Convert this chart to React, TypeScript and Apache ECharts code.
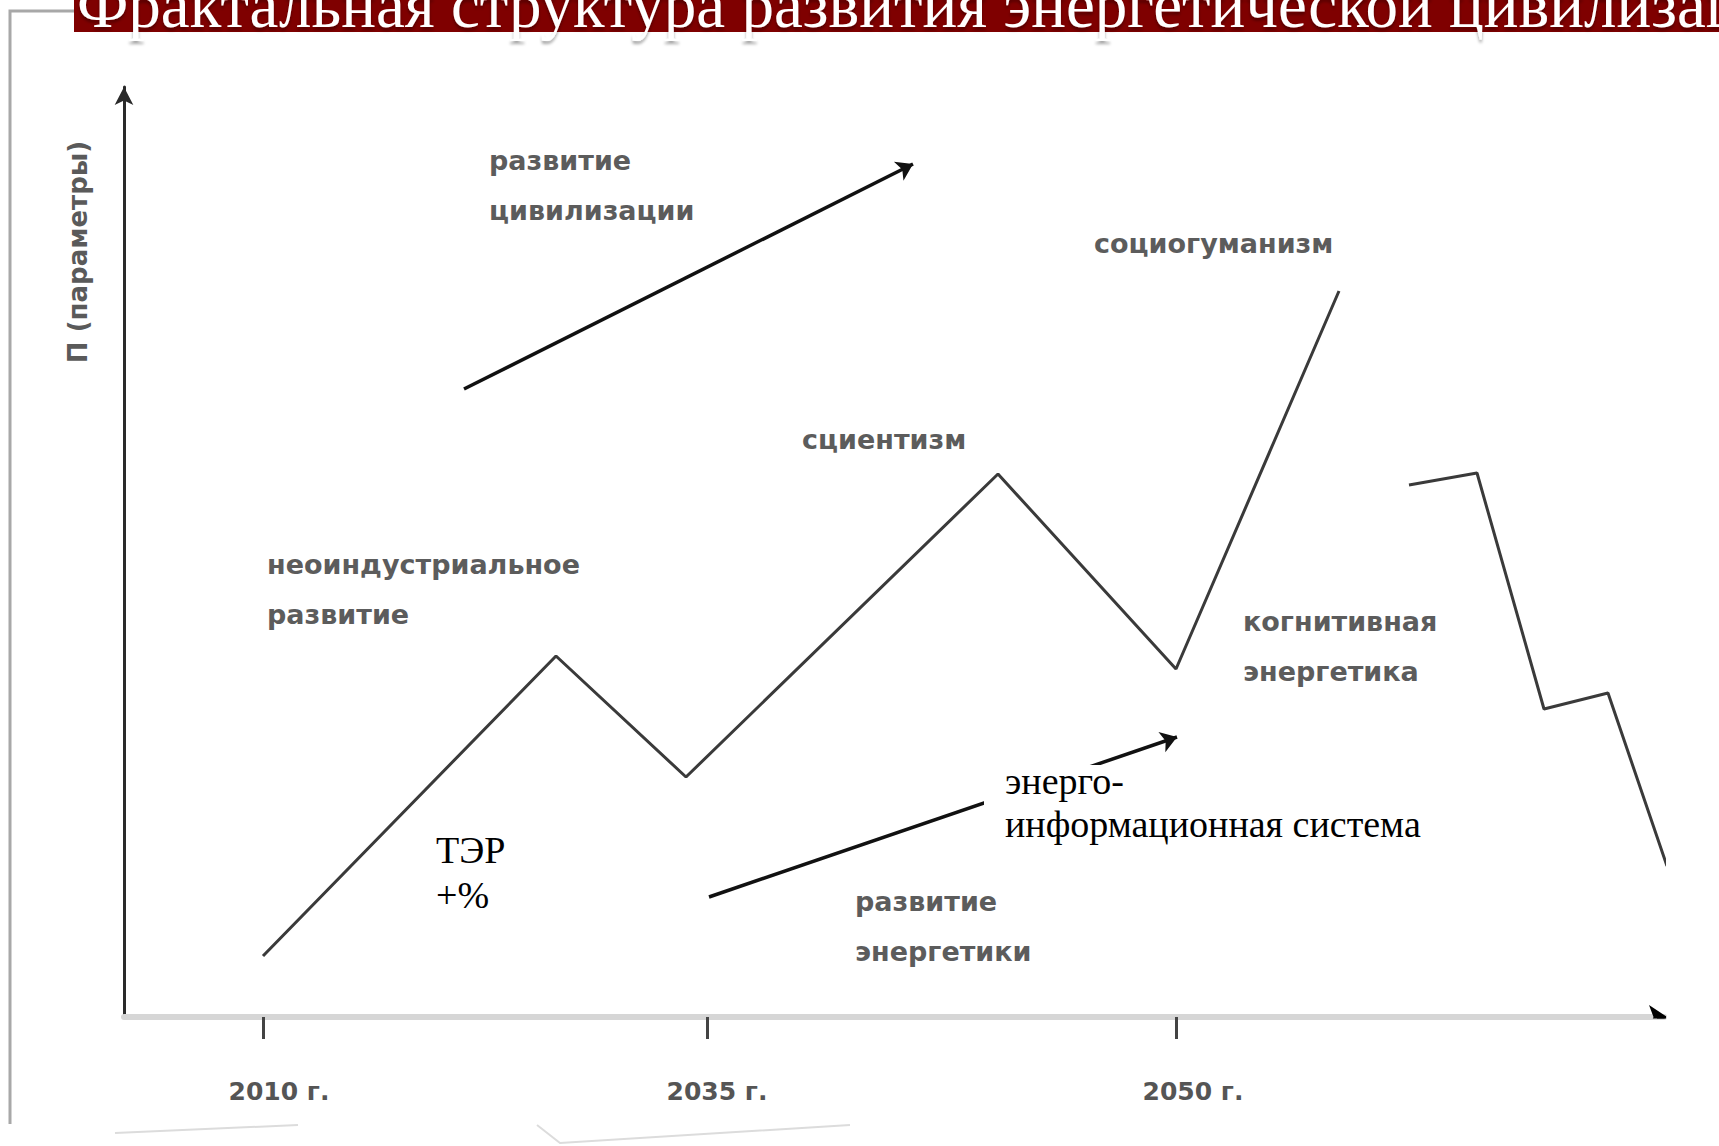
import React, { useEffect, useRef } from "react";
import * as echarts from "echarts";

// ---- data (abstract units: 1 unit ≈ time/parameter step) ----
const titleText = "Фрактальная структура развития энергетической цивилизации";
const yAxisName = "П (параметры)";
const xTickValues = [13.9, 58.3, 105.2];
const xLabelValues = [15.5, 59.3, 106.9];
const xTickLabels = ["2010 г.", "2035 г.", "2050 г."];

const mainPath = [
  [13.9, 6.1],
  [43.2, 36.1],
  [56.2, 24.0],
  [87.4, 54.3],
  [105.2, 34.8],
  [121.5, 72.6],
];
const rightPath = [
  [128.5, 53.2],
  [135.3, 54.4],
  [142.0, 30.8],
  [148.4, 32.4],
  [154.3, 15.1],
];
const civArrow = [
  [34.0, 62.8],
  [78.9, 85.3],
];
const energyArrow = [
  [58.5, 12.0],
  [105.3, 28.0],
];
const xArrow = [
  [153.3, 0],
  [154.3, 0],
];

const grayLabels = [
  "развитие\nцивилизации",
  "социогуманизм",
  "сциентизм",
  "неоиндустриальное\nразвитие",
  "когнитивная\nэнергетика",
  "развитие\nэнергетики",
];
const serifLabels = ["ТЭР\n+%", "энерго-\nинформационная система"];

export default function App() {
  const ref = useRef<HTMLDivElement>(null);

  useEffect(() => {
    document.body.style.margin = "0";
    const chart = echarts.init(ref.current!, null, { renderer: "svg" });
    const grayFont = {
      fontFamily: "'DejaVu Sans', sans-serif",
      fontWeight: "bold" as const,
      fontSize: 27,
      fill: "#5c5c5c",
      lineHeight: 50,
      verticalAlign: "middle" as const,
      align: "left" as const,
    };
    const serifFont = {
      fontFamily: "'Liberation Serif', serif",
      fontSize: 38,
      fill: "#000",
      align: "left" as const,
      verticalAlign: "middle" as const,
    };
    const grayPos = [
      [489, 185],
      [1094, 243],
      [802, 439],
      [267, 589],
      [1243, 646],
      [855, 926],
    ];

    const option: any = {
      animation: false,
      backgroundColor: "#ffffff",
      grid: { left: 124, right: 55, top: 87, bottom: 129 },
      xAxis: {
        type: "value",
        min: 0,
        max: 154,
        axisLine: {
          show: true,
          lineStyle: { color: "#d6d6d6", width: 6 },
        },
        axisTick: {
          show: true,
          customValues: xTickValues,
          length: 22,
          lineStyle: { color: "#444", width: 3 },
        },
        axisLabel: {
          show: true,
          customValues: xLabelValues,
          margin: 62,
          fontFamily: "'DejaVu Sans', sans-serif",
          fontWeight: "bold",
          fontSize: 25,
          color: "#555",
          formatter: (v: number) => {
            const i = xLabelValues.findIndex((u) => Math.abs(u - v) < 0.05);
            return i >= 0 ? xTickLabels[i] : "";
          },
        },
        splitLine: { show: false },
      },
      yAxis: {
        type: "value",
        min: 0,
        max: 93,
        axisLine: {
          show: true,
          lineStyle: { color: "#2a2a2a", width: 3 },
          symbol: ["none", "arrow"],
          symbolSize: [14, 18],
        },
        axisTick: { show: false },
        axisLabel: { show: false },
        splitLine: { show: false },
      },
      series: [
        {
          type: "line",
          data: mainPath,
          showSymbol: false,
          clip: false,
          lineStyle: { color: "#3a3a3a", width: 3 },
        },
        {
          type: "line",
          data: rightPath,
          showSymbol: false,
          clip: false,
          lineStyle: { color: "#3a3a3a", width: 3 },
        },
        {
          type: "lines",
          coordinateSystem: "cartesian2d",
          symbol: ["none", "arrow"],
          symbolSize: 16,
          lineStyle: { color: "#111", width: 3.5, opacity: 1 },
          data: [{ coords: civArrow }, { coords: energyArrow }],
        },
        {
          type: "lines",
          coordinateSystem: "cartesian2d",
          symbol: ["none", "arrow"],
          symbolSize: 18,
          lineStyle: { color: "#000", width: 3, opacity: 1 },
          data: [{ coords: xArrow }],
        },
      ],
      graphic: [
        {
          type: "polyline",
          z: 100,
          shape: { points: [[10, 1124], [10, 11], [74, 11]] },
          style: { stroke: "#a8a8a8", lineWidth: 3, fill: null },
        },
        {
          type: "polyline",
          z: 100,
          shape: { points: [[115, 1133], [298, 1125]] },
          style: { stroke: "#dcdcdc", lineWidth: 2, fill: null },
        },
        {
          type: "polyline",
          z: 100,
          shape: { points: [[537, 1125], [560, 1143], [850, 1125]] },
          style: { stroke: "#dcdcdc", lineWidth: 2, fill: null },
        },
        {
          type: "rect",
          z: 100,
          shape: { x: 74, y: 0, width: 1645, height: 32 },
          style: { fill: "#7f0000" },
        },
        {
          type: "text",
          z: 101,
          x: 77,
          y: 5,
          style: {
            text: titleText,
            fontFamily: "'Liberation Serif', serif",
            fontSize: 65,
            fill: "#ffffff",
            align: "left",
            verticalAlign: "middle",
            textShadowColor: "rgba(0,0,0,0.35)",
            textShadowBlur: 3,
            textShadowOffsetY: 3,
          },
        },
        {
          type: "text",
          z: 101,
          x: 78,
          y: 252,
          rotation: Math.PI / 2,
          style: {
            text: yAxisName,
            fontFamily: "'DejaVu Sans', sans-serif",
            fontWeight: "bold",
            fontSize: 26,
            fill: "#5a5a5a",
            align: "center",
            verticalAlign: "middle",
          },
        },
        ...grayLabels.map((t, i) => ({
          type: "text",
          z: 101,
          x: grayPos[i][0],
          y: grayPos[i][1],
          style: { ...grayFont, text: t },
        })),
        {
          type: "text",
          z: 101,
          x: 436,
          y: 872,
          style: { ...serifFont, text: serifLabels[0], lineHeight: 45 },
        },
        {
          type: "rect",
          z: 100,
          shape: { x: 984, y: 765, width: 440, height: 85 },
          style: { fill: "#ffffff" },
        },
        {
          type: "text",
          z: 101,
          x: 1005,
          y: 802,
          style: {
            ...serifFont,
            text: serifLabels[1],
            lineHeight: 43,
          },
        },
      ],
    };
    chart.setOption(option);
    return () => chart.dispose();
  }, []);

  return (
    <div
      ref={ref}
      style={{ position: "absolute", left: 0, top: 0, width: 1719, height: 1146 }}
    />
  );
}
